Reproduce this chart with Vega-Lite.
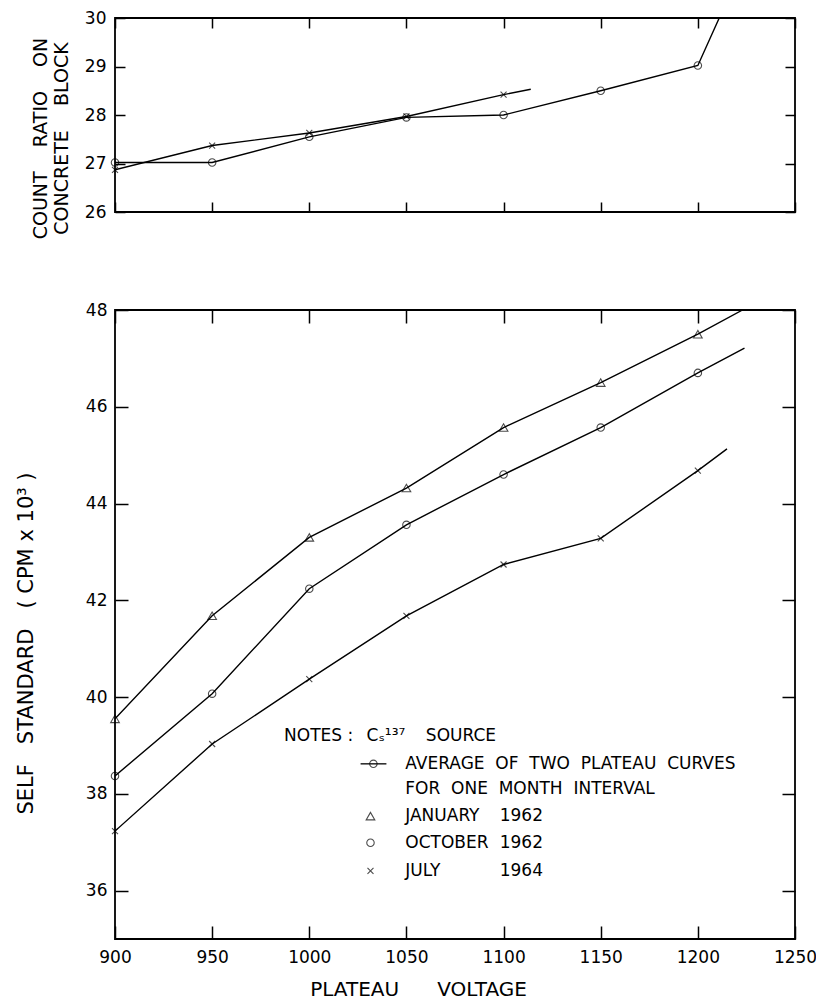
{
  "$schema": "https://vega.github.io/schema/vega-lite/v6.json",
  "padding": {"top": 8, "left": 14, "right": 0, "bottom": 0},
  "bounds": "flush",
  "spacing": 98,
  "background": "white",
  "config": {
    "font": "DejaVu Sans",
    "view": {"stroke": "black", "strokeWidth": 1.8},
    "axis": {
      "domain": false,
      "grid": false,
      "tickColor": "black",
      "tickWidth": 1.5,
      "labelColor": "black",
      "titleColor": "black",
      "labelFont": "DejaVu Sans",
      "titleFont": "DejaVu Sans",
      "labelFontSize": 17,
      "titleFontSize": 20,
      "titleFontWeight": "normal",
      "labelFlush": false,
      "format": "d"
    }
  },
  "datasets": {
    "top": [
      {"v": 900, "r": 27.02, "s": "OCTOBER 1962", "pt": true},
      {"v": 950, "r": 27.02, "s": "OCTOBER 1962", "pt": true},
      {"v": 1000, "r": 27.55, "s": "OCTOBER 1962", "pt": true},
      {"v": 1050, "r": 27.95, "s": "OCTOBER 1962", "pt": true},
      {"v": 1100, "r": 28.0, "s": "OCTOBER 1962", "pt": true},
      {"v": 1150, "r": 28.5, "s": "OCTOBER 1962", "pt": true},
      {"v": 1200, "r": 29.02, "s": "OCTOBER 1962", "pt": true},
      {"v": 1211, "r": 30.0, "s": "OCTOBER 1962", "pt": false},
      {"v": 900, "r": 26.87, "s": "JULY 1964", "pt": true},
      {"v": 950, "r": 27.37, "s": "JULY 1964", "pt": true},
      {"v": 1000, "r": 27.63, "s": "JULY 1964", "pt": true},
      {"v": 1050, "r": 27.97, "s": "JULY 1964", "pt": true},
      {"v": 1100, "r": 28.42, "s": "JULY 1964", "pt": true},
      {"v": 1114, "r": 28.53, "s": "JULY 1964", "pt": false}
    ],
    "bottom": [
      {"v": 900, "r": 39.55, "s": "JANUARY 1962", "pt": true},
      {"v": 950, "r": 41.68, "s": "JANUARY 1962", "pt": true},
      {"v": 1000, "r": 43.3, "s": "JANUARY 1962", "pt": true},
      {"v": 1050, "r": 44.32, "s": "JANUARY 1962", "pt": true},
      {"v": 1100, "r": 45.57, "s": "JANUARY 1962", "pt": true},
      {"v": 1150, "r": 46.5, "s": "JANUARY 1962", "pt": true},
      {"v": 1200, "r": 47.5, "s": "JANUARY 1962", "pt": true},
      {"v": 1223, "r": 48.0, "s": "JANUARY 1962", "pt": false},
      {"v": 900, "r": 38.37, "s": "OCTOBER 1962", "pt": true},
      {"v": 950, "r": 40.07, "s": "OCTOBER 1962", "pt": true},
      {"v": 1000, "r": 42.24, "s": "OCTOBER 1962", "pt": true},
      {"v": 1050, "r": 43.56, "s": "OCTOBER 1962", "pt": true},
      {"v": 1100, "r": 44.6, "s": "OCTOBER 1962", "pt": true},
      {"v": 1150, "r": 45.57, "s": "OCTOBER 1962", "pt": true},
      {"v": 1200, "r": 46.7, "s": "OCTOBER 1962", "pt": true},
      {"v": 1224, "r": 47.21, "s": "OCTOBER 1962", "pt": false},
      {"v": 900, "r": 37.23, "s": "JULY 1964", "pt": true},
      {"v": 950, "r": 39.03, "s": "JULY 1964", "pt": true},
      {"v": 1000, "r": 40.37, "s": "JULY 1964", "pt": true},
      {"v": 1050, "r": 41.68, "s": "JULY 1964", "pt": true},
      {"v": 1100, "r": 42.74, "s": "JULY 1964", "pt": true},
      {"v": 1150, "r": 43.28, "s": "JULY 1964", "pt": true},
      {"v": 1200, "r": 44.68, "s": "JULY 1964", "pt": true},
      {"v": 1215, "r": 45.13, "s": "JULY 1964", "pt": false}
    ],
    "notes": [
      {"v": 987, "r": 39.2, "t": "NOTES :"},
      {"v": 1029.5, "r": 39.2, "t": "Cₛ¹³⁷"},
      {"v": 1060, "r": 39.2, "t": "SOURCE"},
      {"v": 1049.4, "r": 38.62, "t": "AVERAGE\u00a0\u00a0OF\u00a0\u00a0TWO\u00a0\u00a0PLATEAU\u00a0\u00a0CURVES"},
      {"v": 1049.4, "r": 38.1, "t": "FOR\u00a0\u00a0ONE\u00a0\u00a0MONTH\u00a0\u00a0INTERVAL"},
      {"v": 1049.4, "r": 37.54, "t": "JANUARY"},
      {"v": 1098, "r": 37.54, "t": "1962"},
      {"v": 1049.4, "r": 36.99, "t": "OCTOBER"},
      {"v": 1098, "r": 36.99, "t": "1962"},
      {"v": 1049.4, "r": 36.41, "t": "JULY"},
      {"v": 1098, "r": 36.41, "t": "1964"}
    ],
    "keys": [
      {"v": 1033, "r": 38.62, "s": "OCTOBER 1962"},
      {"v": 1031.5, "r": 37.54, "s": "JANUARY 1962"},
      {"v": 1031.5, "r": 36.99, "s": "OCTOBER 1962"},
      {"v": 1031.5, "r": 36.41, "s": "JULY 1964"}
    ],
    "keyline": [
      {"v": 1026.4, "v2": 1039.7, "r": 38.62}
    ]
  },
  "vconcat": [
    {
      "width": 680,
      "height": 194,
      "resolve": {"axis": {"x": "independent", "y": "independent"}},
      "layer": [
        {
          "data": {"name": "top"},
          "mark": {"type": "line", "color": "black", "strokeWidth": 1.4, "clip": true},
          "encoding": {
            "x": {"field": "v", "type": "quantitative", "scale": {"domain": [900, 1250], "nice": false, "zero": false},
              "axis": {"orient": "bottom", "values": [900, 950, 1000, 1050, 1100, 1150, 1200, 1250], "labels": false, "tickSize": -10, "title": null}},
            "y": {"field": "r", "type": "quantitative", "scale": {"domain": [26, 30], "nice": false, "zero": false},
              "axis": {"orient": "left", "values": [26, 27, 28, 29, 30], "tickSize": -10, "labelPadding": 19,
                "title": ["COUNT\u00a0\u00a0\u00a0\u00a0RATIO\u00a0\u00a0\u00a0\u00a0ON", "CONCRETE\u00a0\u00a0\u00a0\u00a0BLOCK"], "titleFontSize": 19, "titleLineHeight": 21,
                "titleX": -75, "titleY": 120, "titleBaseline": "middle", "titleAlign": "center", "titleAngle": 270}},
            "detail": {"field": "s"}
          }
        },
        {
          "data": {"name": "top"},
          "transform": [{"filter": "datum.pt"}],
          "mark": {"type": "point", "filled": false, "stroke": "black", "strokeWidth": 1.1},
          "encoding": {
            "x": {"field": "v", "type": "quantitative",
              "axis": {"orient": "top", "values": [900, 950, 1000, 1050, 1100, 1150, 1200, 1250], "labels": false, "tickSize": -10, "title": null}},
            "y": {"field": "r", "type": "quantitative",
              "axis": {"orient": "right", "values": [26, 27, 28, 29, 30], "labels": false, "tickSize": -10, "title": null}},
            "shape": {"field": "s", "type": "nominal", "legend": null,
              "scale": {"domain": ["JANUARY 1962", "OCTOBER 1962", "JULY 1964"], "range": ["triangle-up", "circle", "M-1,-1L1,1M-1,1L1,-1"]}},
            "size": {"field": "s", "type": "nominal", "legend": null,
              "scale": {"domain": ["JANUARY 1962", "OCTOBER 1962", "JULY 1964"], "range": [75, 36, 50]}}
          }
        }
      ]
    },
    {
      "width": 680,
      "height": 629,
      "resolve": {"axis": {"x": "independent", "y": "independent"}},
      "layer": [
        {
          "data": {"name": "bottom"},
          "mark": {"type": "line", "color": "black", "strokeWidth": 1.4, "clip": true},
          "encoding": {
            "x": {"field": "v", "type": "quantitative", "scale": {"domain": [900, 1250], "nice": false, "zero": false},
              "axis": {"orient": "bottom", "values": [900, 950, 1000, 1050, 1100, 1150, 1200, 1250], "tickSize": -13, "labelPadding": 23,
                "title": "PLATEAU\u00a0\u00a0\u00a0\u00a0\u00a0\u00a0VOLTAGE", "titleX": 303, "titleY": 50, "titleBaseline": "middle", "titleAlign": "center"}},
            "y": {"field": "r", "type": "quantitative", "scale": {"domain": [35, 48], "nice": false, "zero": false},
              "axis": {"orient": "left", "values": [36, 38, 40, 42, 44, 46, 48], "tickSize": -13, "labelPadding": 21,
                "title": "SELF\u00a0\u00a0\u00a0STANDARD\u00a0\u00a0\u00a0(\u00a0CPM\u00a0x\u00a010³\u00a0)", "titleFontSize": 21,
                "titleX": -89, "titleY": 333, "titleBaseline": "middle", "titleAlign": "center", "titleAngle": 270}},
            "detail": {"field": "s"}
          }
        },
        {
          "data": {"name": "bottom"},
          "transform": [{"filter": "datum.pt"}],
          "mark": {"type": "point", "filled": false, "stroke": "black", "strokeWidth": 1.1},
          "encoding": {
            "x": {"field": "v", "type": "quantitative",
              "axis": {"orient": "top", "values": [900, 950, 1000, 1050, 1100, 1150, 1200, 1250], "labels": false, "tickSize": -13, "title": null}},
            "y": {"field": "r", "type": "quantitative",
              "axis": {"orient": "right", "values": [36, 38, 40, 42, 44, 46, 48], "labels": false, "tickSize": -13, "title": null}},
            "shape": {"field": "s", "type": "nominal", "legend": null,
              "scale": {"domain": ["JANUARY 1962", "OCTOBER 1962", "JULY 1964"], "range": ["triangle-up", "circle", "M-1,-1L1,1M-1,1L1,-1"]}},
            "size": {"field": "s", "type": "nominal", "legend": null,
              "scale": {"domain": ["JANUARY 1962", "OCTOBER 1962", "JULY 1964"], "range": [75, 36, 50]}}
          }
        },
        {
          "data": {"name": "keys"},
          "mark": {"type": "point", "filled": false, "stroke": "black", "strokeWidth": 1.1},
          "encoding": {
            "x": {"field": "v", "type": "quantitative", "axis": null},
            "y": {"field": "r", "type": "quantitative", "axis": null},
            "shape": {"field": "s", "type": "nominal", "legend": null},
            "size": {"field": "s", "type": "nominal", "legend": null}
          }
        },
        {
          "data": {"name": "keyline"},
          "mark": {"type": "rule", "color": "black", "strokeWidth": 1.3},
          "encoding": {
            "x": {"field": "v", "type": "quantitative", "axis": null},
            "x2": {"field": "v2"},
            "y": {"field": "r", "type": "quantitative", "axis": null}
          }
        },
        {
          "data": {"name": "notes"},
          "mark": {"type": "text", "align": "left", "baseline": "middle", "fontSize": 17, "font": "DejaVu Sans", "color": "black"},
          "encoding": {
            "x": {"field": "v", "type": "quantitative", "axis": null},
            "y": {"field": "r", "type": "quantitative", "axis": null},
            "text": {"field": "t"}
          }
        }
      ]
    }
  ]
}
